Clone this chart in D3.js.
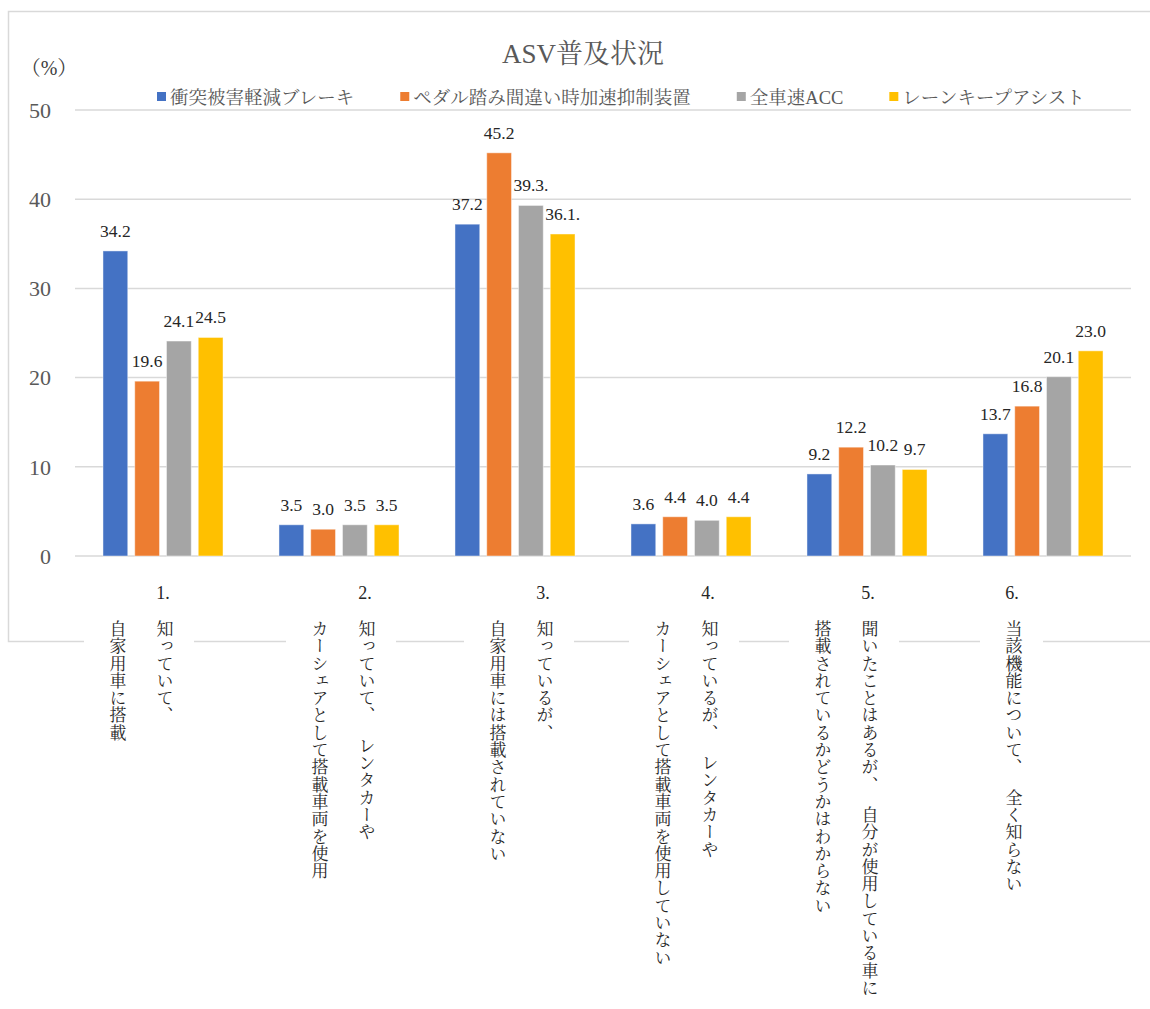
<!DOCTYPE html>
<html>
<head>
<meta charset="utf-8">
<script src="https://cdn.jsdelivr.net/npm/d3@7"></script>
<style>
body { margin: 0; background: #fff; }
text { font-family: "Liberation Serif", "Noto Serif CJK JP", "Noto Sans CJK JP", serif; }
</style>
</head>
<body>
<div id="chart"></div>
<script>
// data
var catNums = ["1.", "2.", "3.", "4.", "5.", "6."];
var catLines = [
  ["知っていて、", "自家用車に搭載"],
  ["知っていて、 レンタカーや", "カーシェアとして搭載車両を使用"],
  ["知っているが、", "自家用車には搭載されていない"],
  ["知っているが、 レンタカーや", "カーシェアとして搭載車両を使用していない"],
  ["聞いたことはあるが、 自分が使用している車に", "搭載されているかどうかはわからない"],
  ["当該機能について、 全く知らない"]
];
var seriesNames = ["衝突被害軽減ブレーキ", "ペダル踏み間違い時加速抑制装置", "全車速ACC", "レーンキープアシスト"];
var brake   = [34.2, 3.5, 37.2, 3.6, 9.2, 13.7];
var pedal   = [19.6, 3.0, 45.2, 4.4, 12.2, 16.8];
var acc     = [24.1, 3.5, 39.3, 4.0, 10.2, 20.1];
var keep    = [24.5, 3.5, 36.1, 4.4, 9.7, 23.0];
// value labels as printed (a couple carry a stray dot)
var labelText = [
  ["34.2", "3.5", "37.2", "3.6", "9.2", "13.7"],
  ["19.6", "3.0", "45.2", "4.4", "12.2", "16.8"],
  ["24.1", "3.5", "39.3.", "4.0", "10.2", "20.1"],
  ["24.5", "3.5", "36.1.", "4.4", "9.7", "23.0"]
];
var yTicks = [0, 10, 20, 30, 40, 50];

var colors = ["#4472C4", "#ED7D31", "#A5A5A5", "#FFC000"];
var series = [brake, pedal, acc, keep];

// layout (don't call it "top", window.top is read only)
var w = 1150, h = 1009;
var mLeft = 75, mRight = 1131, mTop = 110, mBottom = 556;
// label columns in excel don't sit on the band centre, nudge by hand
var labelNudge = [0, 26, 28, 17, 1, -31];
var colGap = 47, pitch = 17.3, spaceStep = 13;

var svg = d3.select('#chart')
  .append("svg")
  .attr("width", w)
  .attr("height", h);

// chart area border
svg.append("rect")
  .attr("x", 8.5).attr("y", 11.5)
  .attr("width", 1160).attr("height", 630)
  .attr("fill", "none")
  .attr("stroke", "#d9d9d9")
  .attr("stroke-width", 1.5);

var x0 = d3.scaleBand()
  .domain(d3.range(catNums.length))
  .range([mLeft, mRight])
  .paddingInner(0.318)
  .paddingOuter(0.159);

var x1 = d3.scaleBand()
  .domain(d3.range(series.length))
  .range([0, x0.bandwidth()])
  .paddingInner(0.22)
  .paddingOuter(0);

var y = d3.scaleLinear().domain([0, 50]).range([mBottom, mTop]);

// grid
svg.append("g")
  .selectAll("line")
  .data(yTicks)
  .join("line")
  .attr("x1", mLeft).attr("x2", mRight)
  .attr("y1", d => y(d)).attr("y2", d => y(d))
  .attr("stroke", "#d9d9d9")
  .attr("stroke-width", 1.5);

svg.append("g")
  .selectAll("text")
  .data(yTicks)
  .join("text")
  .attr("x", 51)
  .attr("y", d => y(d))
  .attr("dy", "0.35em")
  .attr("text-anchor", "end")
  .attr("font-size", 22)
  .attr("fill", "#595959")
  .text(d => d);

// bars
var groups = svg.append("g")
  .selectAll("g")
  .data(series)
  .join("g")
  .attr("fill", (d, i) => colors[i]);

groups.each(function(vals, si) {
  var g = d3.select(this);
  g.selectAll("rect")
    .data(vals)
    .join("rect")
    .attr("x", (d, ci) => x0(ci) + x1(si))
    .attr("width", x1.bandwidth())
    .attr("y", d => y(d))
    .attr("height", d => y(0) - y(d))
    .attr("stroke", "#ffffff")
    .attr("stroke-opacity", 0.45)
    .attr("stroke-width", 1);

  g.selectAll("text")
    .data(vals)
    .join("text")
    .attr("x", (d, ci) => x0(ci) + x1(si) + x1.bandwidth() / 2)
    .attr("y", d => y(d) - 14)
    .attr("text-anchor", "middle")
    .attr("font-size", 17.5)
    .attr("fill", "#262626")
    .text((d, ci) => labelText[si][ci]);
});

// title, unit
svg.append("text")
  .attr("x", 583).attr("y", 63)
  .attr("text-anchor", "middle")
  .attr("font-size", 27)
  .attr("fill", "#595959")
  .text("ASV普及状況");

svg.append("text")
  .attr("x", 49).attr("y", 75)
  .attr("text-anchor", "middle")
  .attr("font-size", 20)
  .attr("fill", "#404040")
  .text("（%）");

// legend
var lx = 157;
seriesNames.forEach(function(name, i) {
  svg.append("rect")
    .attr("x", lx).attr("y", 92)
    .attr("width", 9).attr("height", 9)
    .attr("fill", colors[i]);
  var t = svg.append("text")
    .attr("x", lx + 13).attr("y", 104)
    .attr("font-size", 18.5)
    .attr("fill", "#595959")
    .text(name);
  lx += 13 + t.node().getComputedTextLength() + 46;
});

// category labels, vertical, one glyph at a time so the pitch is fixed
catNums.forEach(function(num, ci) {
  var cx = x0(ci) + x0.bandwidth() / 2 + labelNudge[ci];
  var lines = catLines[ci];
  var lastX = cx - colGap * (lines.length - 1);

  // break the border line behind the label block
  svg.append("rect")
    .attr("x", lastX - 32).attr("y", 636)
    .attr("width", cx - lastX + 63).attr("height", 10)
    .attr("fill", "#fff");

  svg.append("text")
    .attr("x", cx).attr("y", 599)
    .attr("text-anchor", "middle")
    .attr("font-size", 18)
    .attr("fill", "#262626")
    .text(num);

  lines.forEach(function(line, li) {
    var yy = 620;
    Array.from(line).forEach(function(ch) {
      if (ch === " ") { yy += spaceStep; return; }
      svg.append("text")
        .attr("x", cx - colGap * li)
        .attr("y", yy)
        .style("writing-mode", "vertical-rl")
        .attr("font-size", 17)
        .attr("fill", "#262626")
        .text(ch);
      yy += pitch;
    });
  });
});
</script>
</body>
</html>
